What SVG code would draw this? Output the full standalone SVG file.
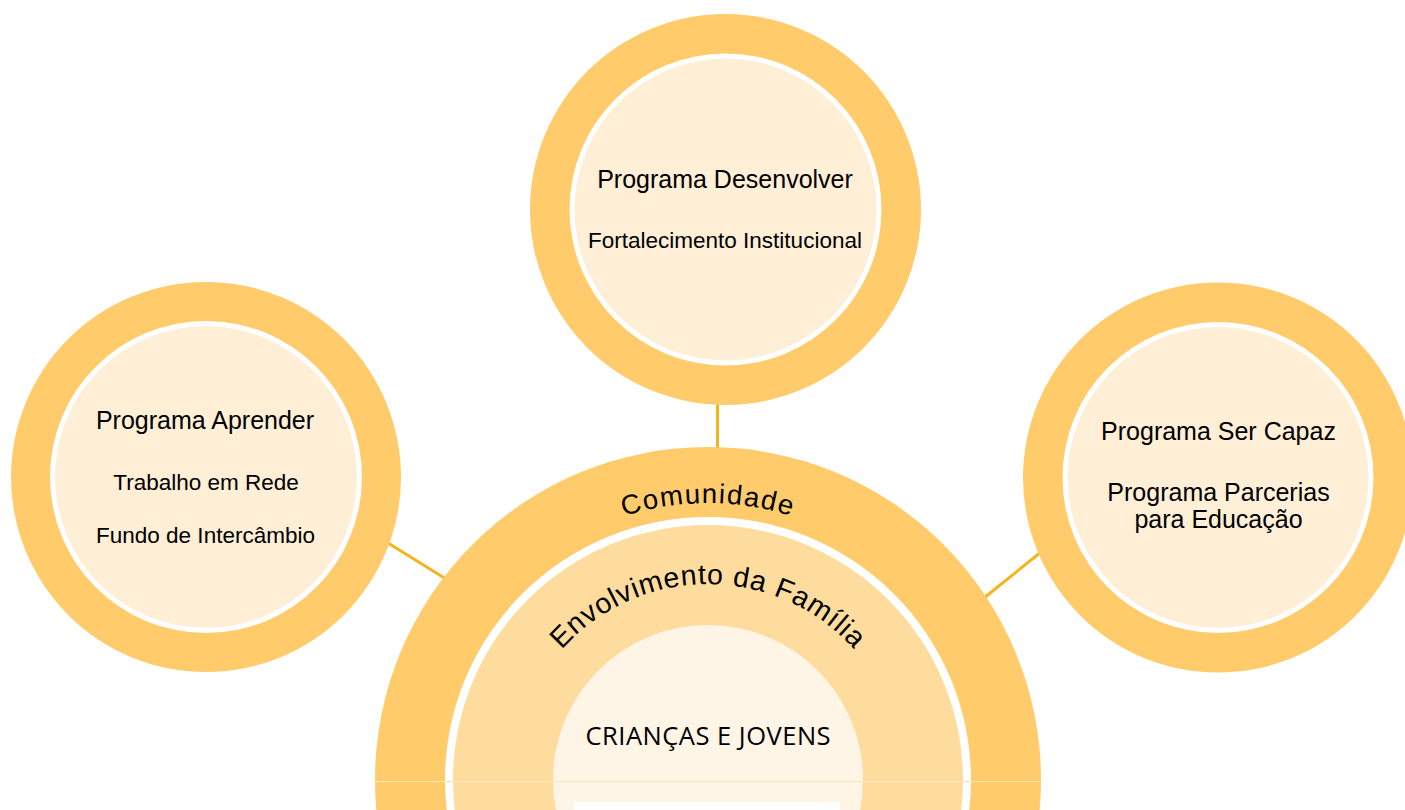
<svg xmlns="http://www.w3.org/2000/svg" width="1405" height="810" viewBox="0 0 1405 810">
<style>
.ring{fill:#FFCB6B}
.gap{fill:#FFFFFF}
.core{fill:#FFEFD7}
.t{font-family:"Liberation Sans",Arial,sans-serif;fill:#000;text-anchor:middle}
.h{font-size:25px}
.s{font-size:22.5px}
.conn{stroke:#F5B41E;stroke-width:3;fill:none}
</style>
<defs>
<path id="arcCom" d="M 431 780 A 277 277 0 0 1 985 780"/>
<path id="arcFam" d="M 512 780 A 196 196 0 0 1 904 780"/>
</defs>
<rect width="1405" height="810" fill="#FFFFFF"/>
<g id="connectors">
<line class="conn" x1="717.5" y1="404" x2="717.5" y2="449"/>
<line class="conn" x1="388" y1="543" x2="446" y2="579"/>
<line class="conn" x1="984" y1="598" x2="1041" y2="552"/>
</g>
<g id="center">
<circle cx="708" cy="780" r="333" class="ring"/>
<circle cx="708" cy="780" r="263" class="gap"/>
<circle cx="708" cy="780" r="255" fill="#FEDC9D"/>
<circle cx="708" cy="780" r="155" fill="#FFF5E7"/>
<line x1="375" y1="781.5" x2="1041" y2="781.5" stroke="#FCE6BE" stroke-width="1"/>
<rect x="574" y="802" width="266" height="8" fill="#FFFFFF"/>
<text class="t" font-size="27.5" letter-spacing="1.5"><textPath href="#arcCom" startOffset="50%">Comunidade</textPath></text>
<text class="t" font-size="28.5" letter-spacing="0.8"><textPath href="#arcFam" startOffset="50%">Envolvimento da Família</textPath></text>
<text x="708.3" y="744.5" font-family="'Open Sans','Noto Sans',sans-serif" font-size="25.5" font-weight="500" letter-spacing="0.5" text-anchor="middle" fill="#000">CRIANÇAS E JOVENS</text>
</g>
<g id="node-desenvolver">
<circle cx="725.5" cy="209.5" r="195.5" class="ring"/>
<circle cx="725.5" cy="209.5" r="156" class="gap"/>
<circle cx="725.5" cy="209.5" r="151" class="core"/>
<text class="t h" x="725" y="188">Programa Desenvolver</text>
<text class="t s" x="725" y="248">Fortalecimento Institucional</text>
</g>
<g id="node-aprender">
<circle cx="206" cy="477" r="195" class="ring"/>
<circle cx="206" cy="477" r="156" class="gap"/>
<circle cx="206" cy="477" r="151" class="core"/>
<text class="t h" x="205" y="429">Programa Aprender</text>
<text class="t s" x="206" y="490">Trabalho em Rede</text>
<text class="t s" x="205.5" y="543">Fundo de Intercâmbio</text>
</g>
<g id="node-sercapaz">
<circle cx="1218" cy="477.5" r="195" class="ring"/>
<circle cx="1218" cy="477.5" r="155.5" class="gap"/>
<circle cx="1218" cy="477.5" r="150.5" class="core"/>
<text class="t h" x="1218.5" y="440">Programa Ser Capaz</text>
<text class="t h" x="1218.5" y="501">Programa Parcerias</text>
<text class="t h" x="1218.5" y="528">para Educação</text>
</g>
</svg>
